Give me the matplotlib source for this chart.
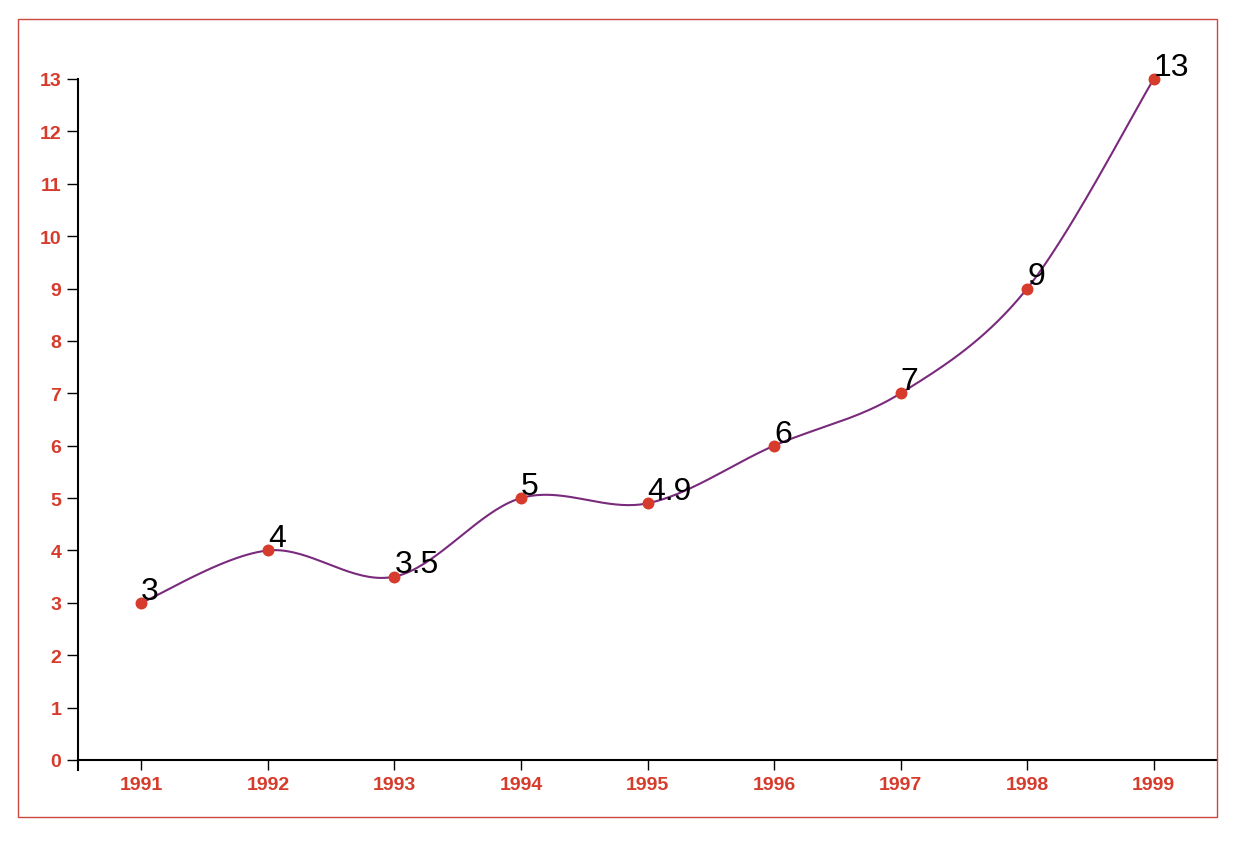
import numpy as np
import matplotlib.pyplot as plt
from matplotlib.patches import Rectangle

years = [1991, 1992, 1993, 1994, 1995, 1996, 1997, 1998, 1999]
values = [3, 4, 3.5, 5, 4.9, 6, 7, 9, 13]
labels = ["3", "4", "3.5", "5", "4.9", "6", "7", "9", "13"]

RED = "#d63b2c"
PURPLE = "#7a2a7d"


def cardinal(xs, ys, n=40):
    # d3 curveCardinal with tension 0 (uniform Catmull-Rom), ends duplicated
    xs = np.asarray(xs, float)
    ys = np.asarray(ys, float)
    px = np.concatenate([[xs[0]], xs, [xs[-1]]])
    py = np.concatenate([[ys[0]], ys, [ys[-1]]])
    out_x, out_y = [], []
    for i in range(1, len(px) - 2):
        p0x, p1x, p2x, p3x = px[i - 1:i + 3]
        p0y, p1y, p2y, p3y = py[i - 1:i + 3]
        # bezier control points
        c1x, c1y = p1x + (p2x - p0x) / 6, p1y + (p2y - p0y) / 6
        c2x, c2y = p2x - (p3x - p1x) / 6, p2y - (p3y - p1y) / 6
        t = np.linspace(0, 1, n)
        a, b, c, d = (1 - t) ** 3, 3 * (1 - t) ** 2 * t, 3 * (1 - t) * t ** 2, t ** 3
        out_x.extend(a * p1x + b * c1x + c * c2x + d * p2x)
        out_y.extend(a * p1y + b * c1y + c * c2y + d * p2y)
    return np.array(out_x), np.array(out_y)


plt.rcParams["font.family"] = ["Liberation Sans", "DejaVu Sans"]

fig = plt.figure(figsize=(12.52, 8.62), dpi=100)
fig.patches.append(Rectangle((18 / 1252, 1 - 818 / 862), 1199 / 1252, 798 / 862,
                             transform=fig.transFigure, fill=False,
                             edgecolor="#c9483f", linewidth=1))

ax = fig.add_axes([78 / 1252, 1 - 761 / 862, (1217 - 78) / 1252, (761 - 80) / 862])
ax.set_xlim(1990.5, 1999.5)
ax.set_ylim(0, 13)

cx, cy = cardinal(years, values)
ax.plot(cx, cy, color=PURPLE, linewidth=1.5, zorder=2, clip_on=False)
ax.plot(years, values, "o", color=RED, markersize=8.6, markeredgewidth=0,
        zorder=3, clip_on=False)
for x, y, t in zip(years, values, labels):
    ax.annotate(t, (x, y), xytext=(0, 3), textcoords="offset points",
                fontsize=23, color="black", ha="left", va="baseline",
                zorder=4, annotation_clip=False)

ax.set_xticks(years)
ax.set_xticklabels([str(y) for y in years])
ax.set_yticks(range(0, 14))

for s in ["top", "right"]:
    ax.spines[s].set_visible(False)
ax.spines["left"].set_linewidth(1.5)
ax.spines["bottom"].set_linewidth(1.5)
ax.spines["left"].set_bounds(-10 / 52.4, 13)

ax.tick_params(axis="y", length=8, width=1, pad=4, labelsize=14, labelcolor=RED)
ax.tick_params(axis="x", length=7.5, width=1, pad=4, labelsize=14, labelcolor=RED)
for lab in ax.get_xticklabels() + ax.get_yticklabels():
    lab.set_fontweight("bold")

fig.savefig("out.png", dpi=100, facecolor="white")
